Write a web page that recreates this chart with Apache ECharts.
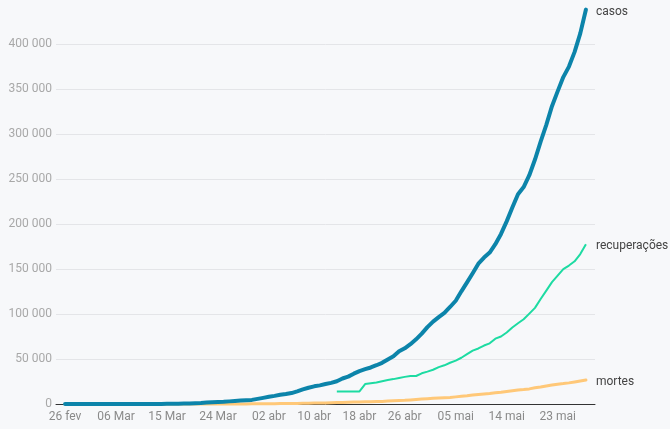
<!DOCTYPE html>
<html>
<head>
<meta charset="utf-8">
<script src="https://cdn.jsdelivr.net/npm/echarts@6/dist/echarts.min.js"></script>
<style>
html,body{margin:0;padding:0;background:#f7f8fa;}
#c{width:670px;height:429px;}
</style>
</head>
<body>
<div id="c"></div>
<script>
// Day index 0 = 26 fev 2020, last = 28 mai 2020 (index 92)
const tickDays = [0, 9, 18, 27, 36, 44, 52, 60, 69, 78, 87];
const tickLabels = ['26 fev', '06 Mar', '15 Mar', '24 Mar', '02 abr', '10 abr', '18 abr', '26 abr', '05 mai', '14 mai', '23 mai'];
const yTicks = [0, 50000, 100000, 150000, 200000, 250000, 300000, 350000, 400000];

const casos = [
  1, 1, 1, 2, 2, 2, 2, 3, 8, 13, 19, 25, 25, 34, 52, 77, 98, 121, 200, 234,
  291, 428, 621, 904, 1128, 1546, 1891, 2201, 2433, 2915, 3417, 3904, 4256, 4579, 5717,
  6836, 8044, 9056, 10360, 11130, 12161, 14034, 16170, 18092, 19638, 20727, 22169, 23430, 25262, 28320,
  30425, 33682, 36599, 38654, 40581, 43079, 45757, 49492, 52995, 58509, 61888, 66501, 71886, 78162, 85380,
  91589, 96559, 101147, 107780, 114715, 125218, 135106, 145328, 155939, 162699, 168331, 177589, 188974, 202918, 218223,
  233142, 241080, 254220, 271628, 291579, 310087, 330890, 347398, 363211, 374898, 391222, 411821, 438238
];
const mortes = [
  0, 0, 0, 0, 0, 0, 0, 0, 0, 0, 0, 0, 0, 0, 0, 0, 0, 0, 0, 0,
  1, 4, 7, 11, 18, 25, 34, 46, 57, 77, 92, 111, 136, 159, 201,
  240, 324, 359, 445, 486, 564, 686, 819, 950, 1057, 1124, 1223, 1328, 1532, 1736,
  1924, 2141, 2347, 2462, 2575, 2741, 2906, 3313, 3670, 4016, 4205, 4543, 5017, 5466, 5901,
  6329, 6724, 7025, 7321, 7921, 8536, 9146, 9897, 10627, 11123, 11653, 12461, 13149, 13993, 14817,
  15633, 16118, 16792, 17971, 18859, 20047, 21048, 22013, 22666, 23473, 24512, 25598, 26754
];
// recuperações start at index 48 (14 abr)
const recStart = 48;
const recuperacoes = [
  14026, 14026, 14026, 14026, 14026, 22130, 22991, 23800, 25318, 26573, 27655, 29000, 30152, 31142, 31142,
  34132, 35935, 38039, 40937, 42991, 45815, 48221, 51370, 55350, 59297, 61685, 64957, 67384, 72597, 75034,
  79479, 84970, 89672, 94122, 100459, 106794, 116683, 125960, 135430, 142587, 149911, 153833, 158593, 166647, 177604
];

const toPairs = (arr, start) => arr.map((v, i) => [start + i, v]);
const fmt = v => String(v).replace(/\B(?=(\d{3})+(?!\d))/g, ' ');

const chart = echarts.init(document.getElementById('c'));
const endLabel = {
  show: true,
  formatter: p => p.seriesName,
  color: '#444',
  fontSize: 12,
  fontFamily: 'Roboto',
  distance: 8,
  offset: [2, 2]
};
chart.setOption({
  animation: false,
  backgroundColor: '#f7f8fa',
  textStyle: { fontFamily: 'Roboto' },
  grid: { left: 56, right: 75, top: 44, bottom: 25 },
  xAxis: {
    type: 'value',
    min: -1.6,
    max: 93.6,
    axisLine: { show: true, lineStyle: { color: '#333', width: 1 } },
    axisTick: { show: false },
    splitLine: { show: false },
    axisLabel: {
      customValues: tickDays,
      formatter: v => { const i = tickDays.indexOf(Math.round(v)); return i >= 0 ? tickLabels[i] : ''; },
      color: '#8a8a8a',
      fontSize: 12,
      margin: 7,
      fontFamily: 'Roboto'
    }
  },
  yAxis: {
    type: 'value',
    min: 0,
    max: 400000,
    interval: 50000,
    axisLine: { show: false },
    axisTick: { show: false },
    splitLine: { show: true, lineStyle: { color: '#e4e5e8', width: 1 } },
    axisLabel: {
      formatter: v => fmt(v),
      color: '#a8a8a8',
      fontSize: 12,
      margin: 4,
      fontFamily: 'Roboto'
    }
  },
  series: [
    {
      name: 'mortes', type: 'line', data: toPairs(mortes, 0), showSymbol: false, clip: false,
      lineStyle: { color: '#ffc878', width: 3, cap: 'round', join: 'round' },
      itemStyle: { color: '#ffc878' },
      endLabel: endLabel
    },
    {
      name: 'recuperações', type: 'line', data: toPairs(recuperacoes, recStart), showSymbol: false, clip: false,
      lineStyle: { color: '#1ddba2', width: 2, join: 'round' },
      itemStyle: { color: '#1ddba2' },
      endLabel: endLabel
    },
    {
      name: 'casos', type: 'line', data: toPairs(casos, 0), showSymbol: false, clip: false,
      lineStyle: { color: '#0c84aa', width: 4, cap: 'round', join: 'round' },
      itemStyle: { color: '#0c84aa' },
      endLabel: endLabel
    }
  ]
});
</script>
</body>
</html>
